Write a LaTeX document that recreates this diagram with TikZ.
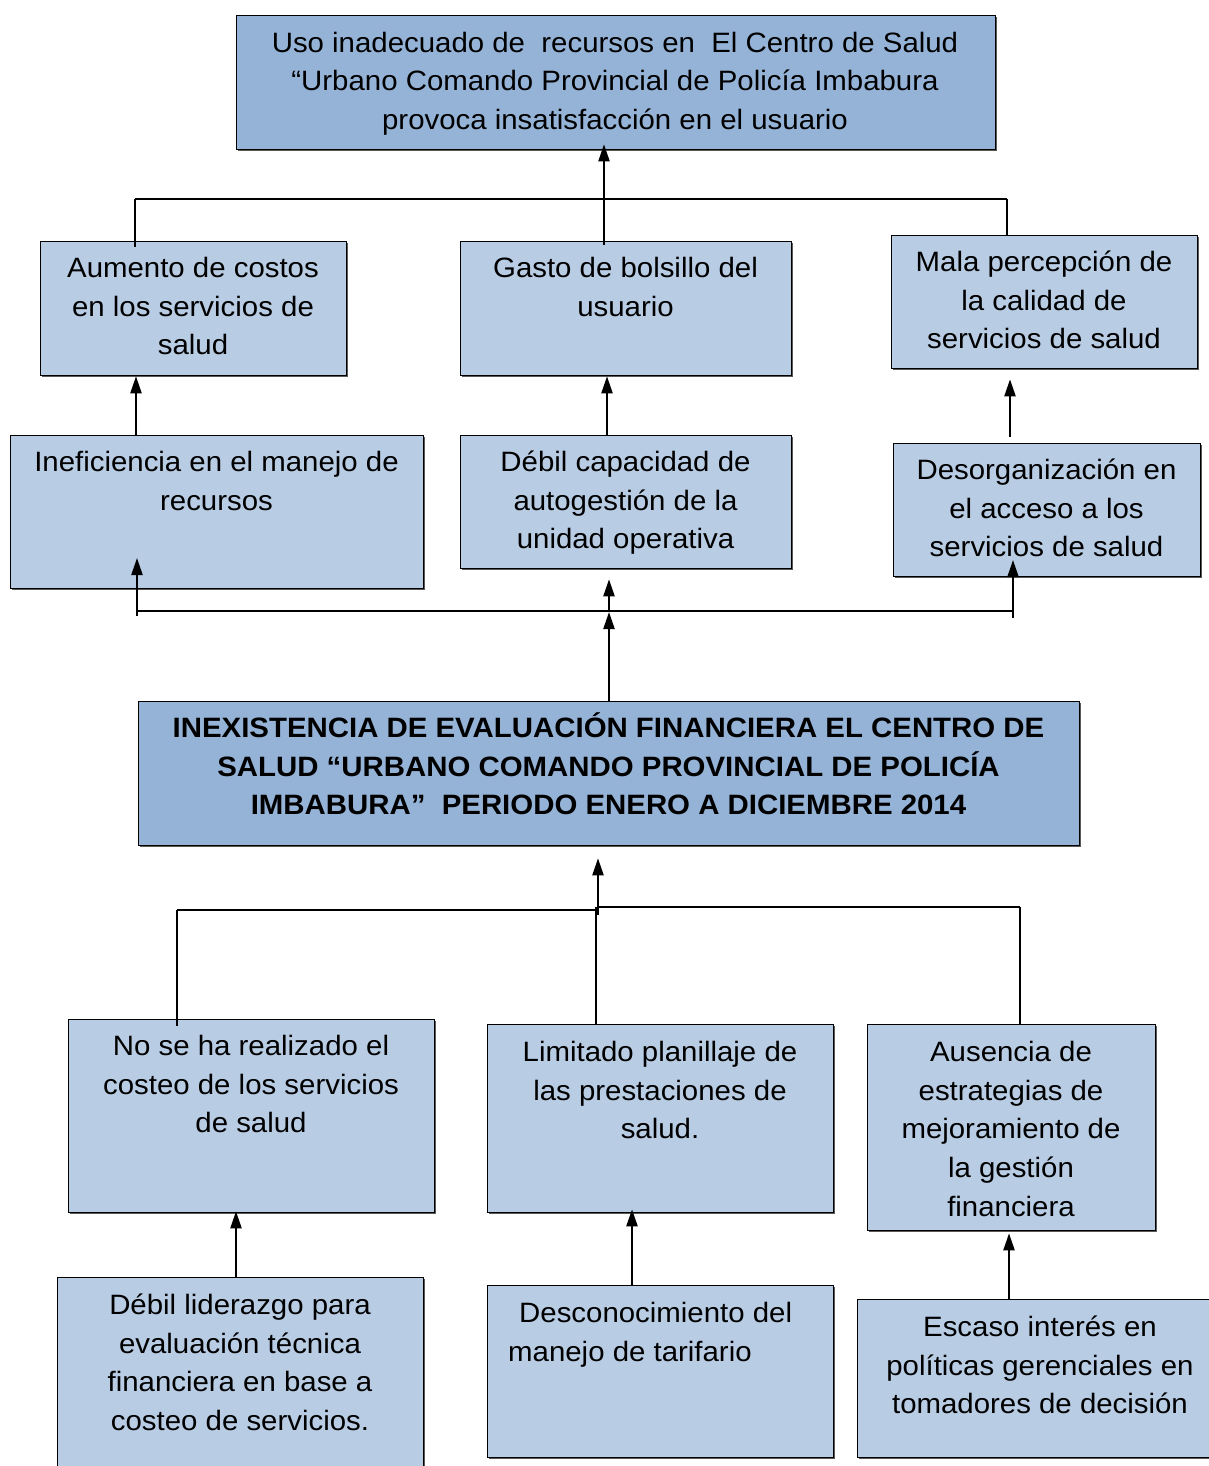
\documentclass[tikz,border=0pt]{standalone}
\usepackage{fontspec}
\setmainfont{Liberation Sans}[FakeStretch=1.05]
\usetikzlibrary{arrows.meta,shadows}
\definecolor{darkbox}{HTML}{95B3D7}
\definecolor{lightbox}{HTML}{B8CCE4}
\newcommand{\fs}{\fontsize{28}{38.8}\selectfont}
\newcommand{\st}{\rule{0pt}{27pt}}
\tikzset{
  boxbase/.style={draw=black,line width=1.3pt,anchor=north west,inner sep=0pt,
    drop shadow={shadow xshift=1.6pt,shadow yshift=-1.6pt,fill=black!65,opacity=1}},
  darkb/.style={boxbase,fill=darkbox},
  lightb/.style={boxbase,fill=lightbox},
  txt/.style={anchor=north,inner sep=0pt,align=center,font=\fs},
  branch/.style={line width=1.4pt},
  arr/.style={line width=2.2pt,-{Triangle[length=17pt,width=11pt]}},
}
\begin{document}
\begin{tikzpicture}[x=1pt,y=-1pt]
\useasboundingbox[fill=white] (0,0) rectangle (1209,1466);
% boxes
\node[darkb, minimum width=759pt, minimum height=134pt] (b1) at (236,15) {};
\node[lightb, minimum width=306pt, minimum height=134pt] (b2) at (40,241) {};
\node[lightb, minimum width=331pt, minimum height=134pt] (b3) at (460,241) {};
\node[lightb, minimum width=306pt, minimum height=133pt] (b4) at (891,235) {};
\node[lightb, minimum width=413pt, minimum height=153pt] (b5) at (10,435) {};
\node[lightb, minimum width=331pt, minimum height=133pt] (b6) at (460,435) {};
\node[lightb, minimum width=307pt, minimum height=133pt] (b7) at (893,443) {};
\node[darkb, minimum width=941pt, minimum height=144pt] (b8) at (138,701) {};
\node[lightb, minimum width=366pt, minimum height=193pt] (b9) at (68,1019) {};
\node[lightb, minimum width=346pt, minimum height=188pt] (b10) at (487,1024) {};
\node[lightb, minimum width=288pt, minimum height=206pt] (b11) at (867,1024) {};
\node[lightb, minimum width=366pt, minimum height=200pt] (b12) at (57,1277) {};
\node[lightb, minimum width=346pt, minimum height=172pt] (b13) at (487,1285) {};
\node[lightb, minimum width=360pt, minimum height=158pt] (b14) at (857,1299) {};
% texts
\node[txt] (t1) at (615,25) {\st Uso inadecuado de\ \ recursos en\ \ El Centro de Salud\\ ``Urbano Comando Provincial de Policía Imbabura\\ provoca insatisfacción en el usuario};
\node[txt] (t2) at (193,250) {\st Aumento de costos\\ en los servicios de\\ salud};
\node[txt] (t3) at (625.5,250) {\st Gasto de bolsillo del\\ usuario};
\node[txt] (t4) at (1044,244) {\st Mala percepción de\\ la calidad de\\ servicios de salud};
\node[txt] (t5) at (216.5,444) {\st Ineficiencia en el manejo de\\ recursos};
\node[txt] (t6) at (625.5,444) {\st Débil capacidad de\\ autogestión de la\\ unidad operativa};
\node[txt] (t7) at (1046.5,452) {\st Desorganización en\\ el acceso a los\\ servicios de salud};
\node[txt,font=\fs\bfseries] (t8) at (608.5,710) {\st INEXISTENCIA DE EVALUACIÓN FINANCIERA EL CENTRO DE\\ SALUD ``URBANO COMANDO PROVINCIAL DE POLICÍA\\ IMBABURA''\ \ PERIODO ENERO A DICIEMBRE 2014};
\node[txt] (t9) at (251,1028) {\st No se ha realizado el\\ costeo de los servicios\\ de salud};
\node[txt] (t10) at (660,1034) {\st Limitado planillaje de\\ las prestaciones de\\ salud.};
\node[txt] (t11) at (1011,1034) {\st Ausencia de\\ estrategias de\\ mejoramiento de\\ la gestión\\ financiera};
\node[txt] (t12) at (240,1287) {\st Débil liderazgo para\\ evaluación técnica\\ financiera en base a\\ costeo de servicios.};
\node[txt,anchor=north west,align=left] (t13) at (508,1295) {\st\hspace{11pt}Desconocimiento del\\ manejo de tarifario};
\node[txt] (t14) at (1040,1309) {\st Escaso interés en\\ políticas gerenciales en\\ tomadores de decisión};
% top tree
\coordinate (hl1) at (135,199);
\coordinate (hr1) at (1007,199);
\coordinate (jt) at (604,199);
\draw[branch] (hl1) -- (hr1);
\draw[branch] (hl1) -- ([yshift=-6pt]hl1 |- b2.north);
\draw[branch] (hr1) -- (hr1 |- b4.north);
\draw[branch] (jt) -- ([yshift=-4pt]jt |- b3.north);
\draw[arr] (jt) -- ([yshift=6pt]jt |- b1.south);
% level 2 arrows
\coordinate (x1) at (136,0);
\coordinate (x2) at (607,0);
\coordinate (x3) at (1010,0);
\draw[arr] (x1 |- b5.north) -- (x1 |- b2.south);
\draw[arr] (x2 |- b6.north) -- (x2 |- b3.south);
\draw[arr] ([yshift=6pt]x3 |- b7.north) -- ([yshift=-10pt]x3 |- b4.south);
% level 3
\coordinate (hl2) at (137,611);
\coordinate (hr2) at (1013,611);
\coordinate (jm) at (609,611);
\coordinate (al) at (137,558);
\coordinate (ar) at (1013,560);
\draw[branch,line width=2pt] (hl2) -- (hr2);
\draw[arr] ([yshift=-5pt]hl2) -- (al);
\draw[arr] ([yshift=-7pt]hr2) -- (ar);
\draw[arr] (jm) -- ([yshift=-10pt]jm |- b6.south);
\draw[arr] (jm |- b8.north) -- ([yshift=-1pt]jm);
% bottom tree
\coordinate (jb) at (598,915);
\coordinate (bl) at (177,910);
\coordinate (bml) at (598,910);
\coordinate (bmr) at (598,907);
\coordinate (br) at (1020,907);
\coordinate (bc) at (596,907);
\draw[arr] (jb) -- ([yshift=-12pt]jb |- b8.south);
\draw[branch] (bl) -- (bml);
\draw[branch] (bmr) -- (br);
\draw[branch] (bl) -- ([yshift=-7pt]bl |- b9.north);
\draw[branch] (bc) -- (bc |- b10.north);
\draw[branch] (br) -- (br |- b11.north);
% level 4 arrows
\coordinate (x4) at (236,0);
\coordinate (x5) at (632,0);
\coordinate (x6) at (1009,0);
\draw[arr] (x4 |- b12.north) -- ([yshift=2pt]x4 |- b9.south);
\draw[arr] (x5 |- b13.north) -- ([yshift=4pt]x5 |- b10.south);
\draw[arr] (x6 |- b14.north) -- ([yshift=-2pt]x6 |- b11.south);
\end{tikzpicture}
\end{document}
